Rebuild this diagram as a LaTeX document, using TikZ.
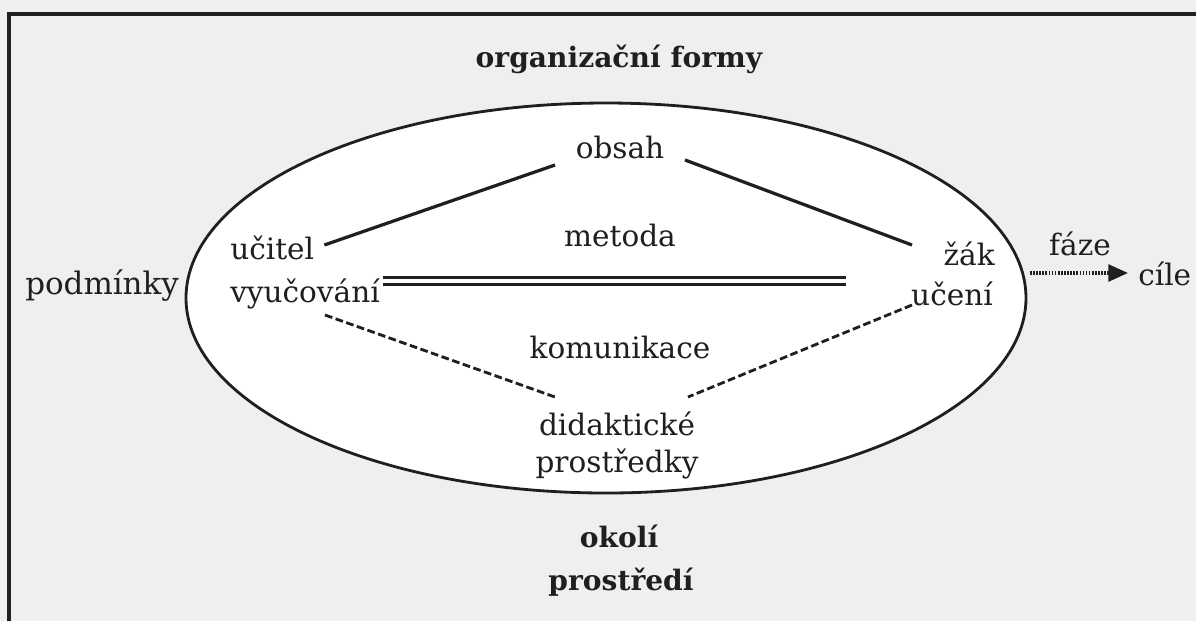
\documentclass[tikz,border=0pt]{standalone}
\usepackage{fontspec}
\setmainfont{DejaVu Serif}
\usetikzlibrary{arrows.meta}
\definecolor{paper}{RGB}{239,238,241}
\definecolor{ink}{RGB}{32,30,32}
\tikzset{
  word/.style={font=\fontsize{21}{25}\selectfont, text=ink, inner sep=0pt},
  headword/.style={font=\fontsize{20}{24}\selectfont\bfseries, text=ink, inner sep=0pt},
  link/.style={draw=ink, line width=2.3pt},
  dashlink/.style={draw=ink, line width=2pt, dash pattern=on 5.5pt off 2.5pt},
}
\begin{document}
\begin{tikzpicture}[x=0.025cm, y=-0.025cm]
      \useasboundingbox (0,0) rectangle (1196,621);
      \fill[paper] (0,0) rectangle (1196,621);
      \draw[ink, line width=2.4pt] (9,621) -- (9,14) -- (1196,14);
      \draw[ink, line width=2pt, fill=white] (606,298) ellipse [x radius=420, y radius=195];
      \path
        (619,67) node[headword, anchor=base] (forms){organizační formy}
        (620,158) node[word, anchor=base] (obsah){obsah}
        (620,246) node[word, anchor=base] (metoda){metoda}
        (230,259) node[word, anchor=base west] (ucitel){učitel}
        (230,302) node[word, anchor=base west] (vyuc){vyučování}
        (995,265) node[word, anchor=base east] (zak){žák}
        (993,305) node[word, anchor=base east] (uceni){učení}
        (25,294) node[word, anchor=base west, font=\fontsize{22}{26}\selectfont] (podm){podmínky}
        (620,358) node[word, anchor=base] (komun){komunikace}
        (617,435) node[word, anchor=base] (didak){didaktické}
        (617,472) node[word, anchor=base] (prostr){prostředky}
        (619,547) node[headword, anchor=base] (okoli){okolí}
        (621,590) node[headword, anchor=base] (prostredi){prostředí}
        (1080,255) node[word, anchor=base] (faze){fáze}
        (1138,285) node[word, anchor=base west] (cile){cíle};
      \begin{scope}[link]
        \draw ([shift={(10,-14)}]ucitel.base east) -- ([shift={(-65,7)}]obsah.base);
        \draw ([shift={(65,2)}]obsah.base) -- ([shift={(-83,-20)}]zak.base east);
        \draw[double=white, double distance=3pt, line width=2pt]
          ([shift={(3,-21)}]vyuc.base east) -- ([shift={(-147,-24)}]uceni.base east);
        \draw[dashlink] ([shift={(95,13)}]vyuc.base west) -- ([shift={(-62,-38)}]didak.base);
        \draw[dashlink] ([shift={(-81,0)}]uceni.base east) -- ([shift={(71,-38)}]didak.base);
        \draw[line width=2.2pt, dash pattern=on 1.2pt off 1pt, -{Triangle[length=14pt, width=12pt]}]
          ([shift={(-50,18)}]faze.base) -- ([shift={(-10,-12)}]cile.base west);
      \end{scope}
    \end{tikzpicture}
\end{document}
